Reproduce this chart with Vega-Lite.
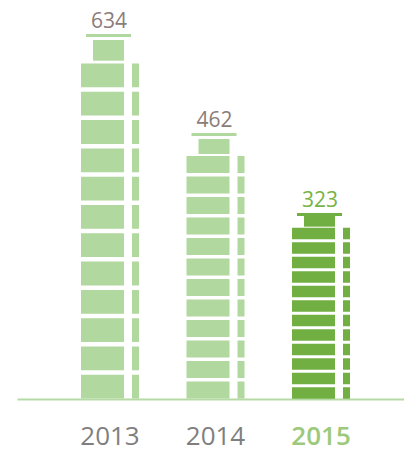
{
  "$schema": "https://vega.github.io/schema/vega-lite/v6.json",
  "width": 387,
  "height": 399,
  "autosize": {"type": "none"},
  "padding": {"left": 17, "top": 0, "right": 0, "bottom": 51},
  "config": {"view": {"stroke": null}},
  "data": {
    "values": [
      {"year": "2013", "value": 634, "body": 582.7, "roofBase": 587.6, "roof": 623.5},
      {"year": "2014", "value": 462, "body": 422.1, "roofBase": 425.5, "roof": 451.6},
      {"year": "2015", "value": 323, "body": 297.5, "roofBase": 299.3, "roof": 318.4}
    ]
  },
  "encoding": {
    "x": {
      "field": "year",
      "type": "ordinal",
      "scale": {"type": "band", "paddingInner": 0, "paddingOuter": 0.334, "align": 0.571},
      "axis": {
        "title": null,
        "ticks": false,
        "domain": true,
        "domainColor": "#B5DAA5",
        "domainWidth": 2,
        "labelAngle": 0,
        "labelFont": "Open Sans",
        "labelFontSize": 26,
        "labelPadding": 24,
        "labelColor": {"condition": {"test": "datum.value == '2015'", "value": "#9CC97B"}, "value": "#7F7F7F"},
        "labelFontWeight": {"condition": {"test": "datum.value == '2015'", "value": 600}, "value": 400},
        "grid": false
      }
    }
  },
  "layer": [
    {
      "mark": {"type": "rule", "strokeWidth": 43, "xOffset": -7.5, "strokeCap": "butt"},
      "encoding": {
        "y": {"field": "body", "type": "quantitative", "scale": {"domain": [0, 693], "nice": false, "zero": true}, "axis": null},
        "y2": {"datum": 0},
        "color": {"condition": {"test": "datum.year == '2015'", "value": "#72AF43"}, "value": "#B1D89F"},
        "strokeDash": {"condition": [
          {"test": "datum.year == '2013'", "value": [23.8, 4.5]},
          {"test": "datum.year == '2014'", "value": [17, 3.5]}
        ], "value": [11.5, 3]}
      }
    },
    {
      "mark": {"type": "rule", "strokeWidth": 7, "xOffset": 25.5, "strokeCap": "butt"},
      "encoding": {
        "y": {"field": "body", "type": "quantitative"},
        "y2": {"datum": 0},
        "color": {"condition": {"test": "datum.year == '2015'", "value": "#72AF43"}, "value": "#B1D89F"},
        "strokeDash": {"condition": [
          {"test": "datum.year == '2013'", "value": [23.8, 4.5]},
          {"test": "datum.year == '2014'", "value": [17, 3.5]}
        ], "value": [11.5, 3]}
      }
    },
    {
      "mark": {"type": "bar", "width": 31, "xOffset": -1.5},
      "encoding": {
        "y": {"field": "roof", "type": "quantitative"},
        "y2": {"field": "roofBase"},
        "color": {"condition": {"test": "datum.year == '2015'", "value": "#72AF43"}, "value": "#B1D89F"}
      }
    },
    {
      "mark": {"type": "tick", "size": 45, "thickness": 3, "yOffset": 1.5, "xOffset": -1.5, "opacity": 1},
      "encoding": {
        "y": {"field": "value", "type": "quantitative"},
        "color": {"condition": {"test": "datum.year == '2015'", "value": "#72AF43"}, "value": "#B1D89F"}
      }
    },
    {
      "mark": {"type": "text", "font": "Open Sans", "fontSize": 21, "dy": -6, "xOffset": -1, "baseline": "alphabetic", "align": "center"},
      "encoding": {
        "y": {"field": "value", "type": "quantitative"},
        "text": {"field": "value", "type": "quantitative"},
        "color": {"condition": {"test": "datum.year == '2015'", "value": "#78B346"}, "value": "#8B7D78"}
      }
    }
  ]
}
